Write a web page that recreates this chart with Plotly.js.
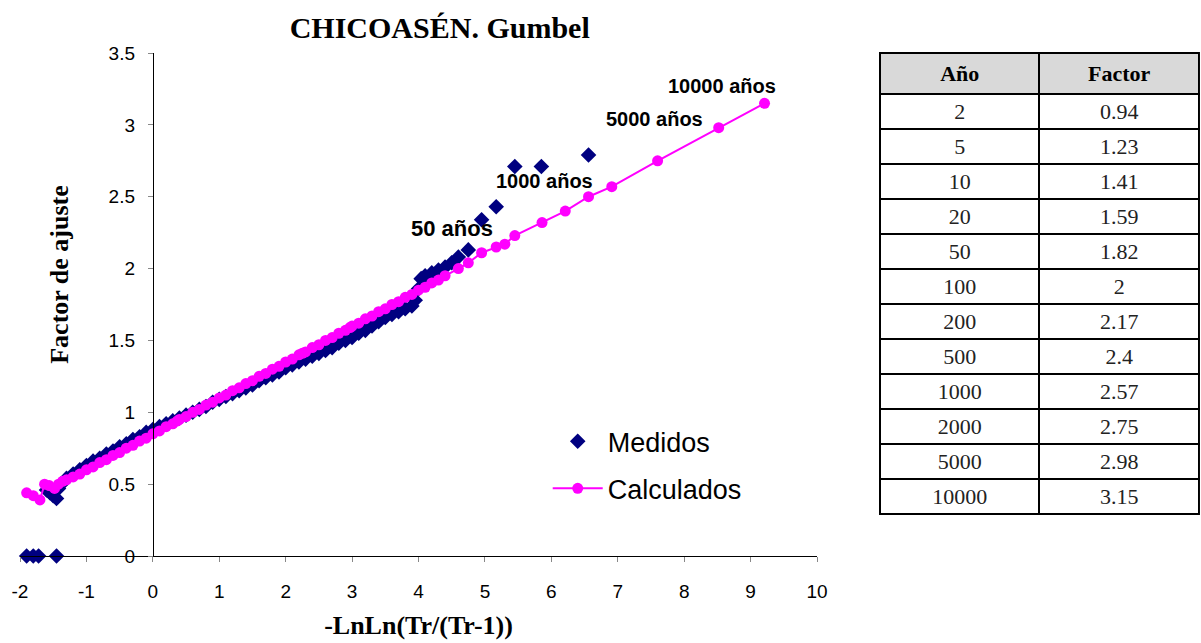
<!DOCTYPE html>
<html>
<head>
<meta charset="utf-8">
<script src="https://cdn.plot.ly/plotly-3.0.1.min.js"></script>
<style>
html,body{margin:0;padding:0;background:#fff;}
#chart{width:1201px;height:643px;}
</style>
</head>
<body>
<div id="chart"></div>
<script>
// ---- Data ----
// Medidos (measured): reduced Gumbel variate vs adjustment factor
const medidosX = [-1.90, -1.80, -1.72, -1.45,
  -1.60, -1.55, -1.50, -1.45, -1.42, -1.38, -1.30, -1.20, -1.10, -1.00,
  -0.90, -0.80, -0.70, -0.60, -0.50, -0.40, -0.30, -0.20, -0.10, 0.00,
  0.10, 0.20, 0.30, 0.40, 0.50, 0.60, 0.70, 0.80, 0.90, 1.00,
  1.10, 1.20, 1.30, 1.40, 1.50, 1.60, 1.70, 1.80, 1.90, 2.00,
  2.10, 2.20, 2.30, 2.40, 2.50, 2.60, 2.70, 2.80, 2.90, 3.00,
  3.10, 3.20, 3.30, 3.40, 3.50, 3.60, 3.70, 3.80, 3.90, 3.95,
  4.00, 4.04, 4.10, 4.20, 4.30, 4.40, 4.50, 4.60, 4.75, 4.95,
  5.17, 5.45, 5.85, 6.56];
const medidosY = [0, 0, 0, 0,
  0.46, 0.44, 0.42, 0.40, 0.47, 0.50, 0.54, 0.57, 0.60, 0.63,
  0.66, 0.68, 0.71, 0.73, 0.76, 0.78, 0.81, 0.83, 0.86, 0.88,
  0.90, 0.92, 0.94, 0.96, 0.98, 1.00, 1.02, 1.04, 1.07, 1.09,
  1.11, 1.13, 1.15, 1.17, 1.19, 1.22, 1.24, 1.26, 1.28, 1.31,
  1.33, 1.35, 1.37, 1.39, 1.41, 1.43, 1.45, 1.48, 1.50, 1.52,
  1.55, 1.57, 1.60, 1.63, 1.66, 1.68, 1.70, 1.72, 1.74, 1.78,
  1.86, 1.93, 1.95, 1.97, 1.99, 2.01, 2.04, 2.08, 2.13, 2.34,
  2.43, 2.71, 2.71, 2.79];

// Calculados (fitted Gumbel)
const calculadosX = [-1.90, -1.80, -1.70, -1.63, -1.56, -1.48, -1.42, -1.36, -1.30, -1.20,
  -1.10, -1.00, -0.90, -0.80, -0.70, -0.60, -0.50, -0.40, -0.30, -0.20,
  -0.10, 0.00, 0.10, 0.20, 0.30, 0.37, 0.40, 0.50, 0.60, 0.70,
  0.80, 0.90, 1.00, 1.10, 1.20, 1.30, 1.40, 1.50, 1.60, 1.70,
  1.80, 1.90, 2.00, 2.10, 2.20, 2.25, 2.30, 2.40, 2.50, 2.60,
  2.70, 2.80, 2.90, 2.97, 3.00, 3.10, 3.20, 3.30, 3.40, 3.50,
  3.60, 3.70, 3.80, 3.90, 4.00, 4.10, 4.20, 4.30, 4.40, 4.60,
  4.75, 4.95, 5.17, 5.30, 5.45, 5.86, 6.21, 6.56, 6.91, 7.60,
  8.52, 9.21];
const calculadosY = [0.44, 0.42, 0.39, 0.50, 0.49, 0.47, 0.50, 0.52, 0.53, 0.55,
  0.57, 0.60, 0.62, 0.65, 0.67, 0.70, 0.72, 0.75, 0.77, 0.80,
  0.82, 0.85, 0.87, 0.90, 0.92, 0.94, 0.95, 0.97, 1.00, 1.02,
  1.05, 1.07, 1.10, 1.12, 1.15, 1.17, 1.20, 1.22, 1.25, 1.27,
  1.30, 1.32, 1.35, 1.37, 1.40, 1.41, 1.42, 1.45, 1.47, 1.50,
  1.52, 1.55, 1.57, 1.59, 1.60, 1.62, 1.65, 1.67, 1.70, 1.72,
  1.75, 1.77, 1.80, 1.82, 1.85, 1.87, 1.90, 1.92, 1.95, 2.00,
  2.04, 2.11, 2.15, 2.17, 2.23, 2.32, 2.40, 2.50, 2.57, 2.75,
  2.98, 3.15];

// Table
const tablaAnio = [2, 5, 10, 20, 50, 100, 200, 500, 1000, 2000, 5000, 10000];
const tablaFactor = [0.94, 1.23, 1.41, 1.59, 1.82, 2, 2.17, 2.4, 2.57, 2.75, 2.98, 3.15];

// Axis ticks
const xTickVals = [-2, -1, 0, 1, 2, 3, 4, 5, 6, 7, 8, 9, 10];
const xTickText = ['-2', '-1', '0', '1', '2', '3', '4', '5', '6', '7', '8', '9', '10'];

// Return-period labels
const etiquetas = ['10000 años', '5000 años', '1000 años', '50 años'];
const etiquetaX = [8.57, 7.56, 5.90, 4.50];
const etiquetaY = [3.27, 3.04, 2.61, 2.28];

// ---- Figure ----
const SANS = 'Liberation Sans, Arial, sans-serif';
const SERIF = 'Liberation Serif, Times New Roman, serif';
const xRange = [-2, 10];
const xDomain = [0, 0.676];
const yAxisPos = xDomain[0] + (xDomain[1] - xDomain[0]) * (0 - xRange[0]) / (xRange[1] - xRange[0]);

const traces = [
  {
    type: 'scatter', mode: 'markers', name: 'Medidos',
    x: medidosX, y: medidosY, cliponaxis: false,
    marker: {symbol: 'diamond', size: 12, color: '#000080'},
    legendgroup: 'a'
  },
  {
    type: 'scatter', mode: 'lines+markers', name: 'Calculados',
    x: calculadosX, y: calculadosY, cliponaxis: false,
    marker: {symbol: 'circle', size: 11, color: '#ff00ff'},
    line: {color: '#ff00ff', width: 2},
    legendgroup: 'b'
  },
  {
    type: 'table',
    domain: {x: [0.7294, 1], y: [0.06, 1]},
    columnwidth: [1, 1],
    header: {
      values: ['<b>Año</b>', '<b>Factor</b>'],
      fill: {color: '#d9d9d9'},
      line: {color: '#000', width: 2},
      align: 'center',
      height: 35,
      font: {family: SERIF, size: 22, color: '#000'}
    },
    cells: {
      values: [tablaAnio.map(String), tablaFactor.map(String)],
      fill: {color: '#fff'},
      line: {color: '#000', width: 2},
      align: 'center',
      height: 35,
      font: {family: SERIF, size: 22, color: '#222'}
    }
  }
];

const annotations = etiquetas.map((t, i) => ({
  x: etiquetaX[i], y: etiquetaY[i], xref: 'x', yref: 'y',
  text: '<b>' + t + '</b>', showarrow: false,
  font: {family: SANS, size: (i === 3 ? 22 : 20), color: '#000'}
}));

const layout = {
  width: 1201, height: 643,
  margin: {l: 20, r: 2, t: 53, b: 87},
  paper_bgcolor: '#fff', plot_bgcolor: '#fff',
  showlegend: true,
  title: {
    text: '<b>CHICOASÉN. Gumbel</b>',
    font: {family: SERIF, size: 30, color: '#000'},
    x: 0.356, xref: 'paper', xanchor: 'center',
    y: 0.958, yref: 'container', yanchor: 'middle'
  },
  xaxis: {
    domain: xDomain, range: xRange, showgrid: false, zeroline: false,
    showline: true, linecolor: '#000', linewidth: 1,
    ticks: 'outside', ticklen: 5, tickcolor: '#888',
    tickvals: xTickVals, ticktext: xTickText,
    ticklabelstandoff: 13,
    tickfont: {family: SANS, size: 19, color: '#000'},
    title: {text: '<b>-LnLn(Tr/(Tr-1))</b>', font: {family: SERIF, size: 26, color: '#000'}, standoff: 15},
    anchor: 'y', fixedrange: true
  },
  yaxis: {
    range: [0, 3.5], dtick: 0.5, tick0: 0, showgrid: false, zeroline: false,
    showline: true, linecolor: '#000', linewidth: 1,
    ticks: 'outside', ticklen: 5, tickcolor: '#888',
    anchor: 'free', position: yAxisPos,
    ticklabelstandoff: 9,
    tickfont: {family: SANS, size: 19, color: '#000'},
    title: {text: '<b>Factor de ajuste</b>', font: {family: SERIF, size: 26, color: '#000'}, standoff: 31},
    fixedrange: true
  },
  legend: {
    x: 0.4476, y: 0.276, xanchor: 'left', yanchor: 'top',
    bgcolor: 'rgba(0,0,0,0)', borderwidth: 0,
    font: {family: SANS, size: 27, color: '#000'},
    traceorder: 'grouped', tracegroupgap: 9, itemwidth: 50
  },
  annotations: annotations
};

Plotly.newPlot('chart', traces, layout, {displayModeBar: false, staticPlot: true}).then(function () {
  // Excel places the vertical axis title a little above the plot's centre
  var yt = document.querySelector('.g-ytitle text');
  if (yt) {
    var t = yt.getAttribute('transform') || '';
    yt.setAttribute('transform', 'translate(0,-30) ' + t);
  }
});
</script>
</body>
</html>
